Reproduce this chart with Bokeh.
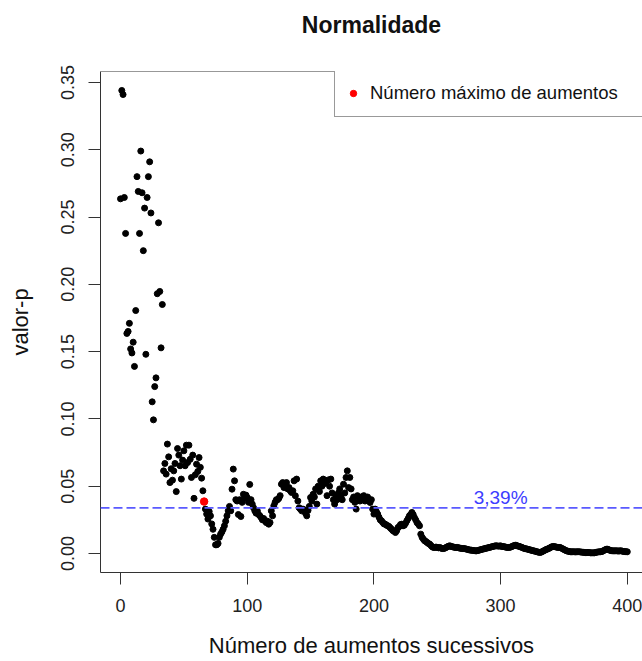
from bokeh.plotting import figure
from bokeh.models import (Range1d, FixedTicker, NumeralTickFormatter, Span, Label,
                          Legend, LegendItem, Title)
from bokeh.embed import file_html
from bokeh.resources import INLINE

# ---------------- data ----------------
title_text = "Normalidade"
x_label = "Número de aumentos sucessivos"
y_label = "valor-p"
legend_label = "Número máximo de aumentos"

x_ticks = [0, 100, 200, 300, 400]
y_ticks = [0.00, 0.05, 0.10, 0.15, 0.20, 0.25, 0.30, 0.35]

# p-values for 0, 1, 2, ... successive increases
pval_a = [0.2635, 0.3440, 0.3410, 0.2645, 0.2378, 0.1635, 0.1650, 0.1710, 0.1520, 0.1490,
          0.1570, 0.1390, 0.1805, 0.2800, 0.2690, 0.2378, 0.2990, 0.2680, 0.2250, 0.2566,
          0.1480, 0.2645, 0.2800, 0.2910, 0.2530, 0.1127, 0.0993, 0.1240, 0.1305, 0.1930,
          0.2457, 0.1947, 0.1528, 0.1850]
pval_b = [0.0614, 0.0669, 0.0590, 0.0813, 0.0718, 0.0527, 0.0630, 0.0545, 0.0614, 0.0669,
          0.0460, 0.0780, 0.0731, 0.0652, 0.0553, 0.0694, 0.0763, 0.0652, 0.0805, 0.0676,
          0.0805, 0.0700, 0.0565, 0.0731, 0.0410, 0.0585, 0.0664, 0.0610, 0.0713, 0.0640,
          0.0560, 0.0466, 0.0386]
pval_c = [0.0330, 0.0293, 0.0256, 0.0312, 0.0280, 0.0220, 0.0180, 0.0120, 0.0065, 0.0065,
          0.0075, 0.0120, 0.0144, 0.0160, 0.0180, 0.0206, 0.0240, 0.0280, 0.0317, 0.0350,
          0.0317, 0.0478, 0.0627, 0.0540, 0.0400, 0.0390, 0.0290, 0.0400, 0.0275, 0.0380,
          0.0440, 0.0410, 0.0434, 0.0416, 0.0380, 0.0513, 0.0400, 0.0367, 0.0340, 0.0317,
          0.0300, 0.0317, 0.0290, 0.0280, 0.0267, 0.0250, 0.0260, 0.0243, 0.0230, 0.0240,
          0.0218, 0.0230, 0.0317, 0.0280, 0.0354, 0.0380, 0.0400, 0.0400, 0.0410, 0.0430,
          0.0515, 0.0527, 0.0490, 0.0508, 0.0527, 0.0480, 0.0490]
pval_d = [0.0466, 0.0453, 0.0466, 0.0540, 0.0429, 0.0553, 0.0390, 0.0340, 0.0330, 0.0317,
          0.0330, 0.0317, 0.0300, 0.0280, 0.0320, 0.0350, 0.0416, 0.0390, 0.0440, 0.0420,
          0.0480, 0.0367, 0.0500, 0.0460, 0.0540, 0.0500, 0.0553, 0.0520, 0.0527, 0.0430,
          0.0547, 0.0500, 0.0553, 0.0450, 0.0400, 0.0367, 0.0430, 0.0400, 0.0450, 0.0480,
          0.0430, 0.0400, 0.0515, 0.0450, 0.0565, 0.0614, 0.0490, 0.0565, 0.0480, 0.0400,
          0.0420, 0.0380, 0.0330, 0.0430, 0.0416, 0.0390, 0.0420, 0.0400, 0.0430, 0.0390,
          0.0416, 0.0420, 0.0400, 0.0379, 0.0400, 0.0330, 0.0293]
pval_e = [0.0330, 0.0310, 0.0293, 0.0270, 0.0250, 0.0243, 0.0230, 0.0220, 0.0218, 0.0210,
          0.0206, 0.0200, 0.0190, 0.0180, 0.0170, 0.0165, 0.0156, 0.0170, 0.0193, 0.0200,
          0.0215, 0.0218, 0.0206, 0.0210, 0.0225, 0.0243, 0.0260, 0.0280, 0.0290, 0.0305,
          0.0290, 0.0267, 0.0250, 0.0230, 0.0220, 0.0206, 0.0144, 0.0120, 0.0107, 0.0095,
          0.0090, 0.0082, 0.0075, 0.0070, 0.0060, 0.0050, 0.0045, 0.0045, 0.0048, 0.0045,
          0.0042, 0.0045, 0.0040, 0.0037, 0.0037, 0.0040, 0.0045, 0.0050, 0.0055, 0.0057,
          0.0052, 0.0050, 0.0048, 0.0045, 0.0045, 0.0045, 0.0042, 0.0040, 0.0038, 0.0037,
          0.0037, 0.0035, 0.0033, 0.0030, 0.0028, 0.0025, 0.0025, 0.0023, 0.0022, 0.0020,
          0.0020, 0.0022, 0.0025, 0.0028, 0.0030, 0.0033, 0.0035, 0.0038, 0.0040, 0.0042,
          0.0045, 0.0047, 0.0050, 0.0052, 0.0055, 0.0057, 0.0057, 0.0055, 0.0055, 0.0057]
pval_f = [0.0052, 0.0052, 0.0050, 0.0048, 0.0045, 0.0045, 0.0045, 0.0048, 0.0052, 0.0057,
          0.0060, 0.0062, 0.0057, 0.0055, 0.0052, 0.0048, 0.0045, 0.0040, 0.0037, 0.0035,
          0.0033, 0.0030, 0.0028, 0.0025, 0.0022, 0.0020, 0.0018, 0.0015, 0.0012, 0.0010,
          0.0008, 0.0010, 0.0015, 0.0020, 0.0025, 0.0030, 0.0033, 0.0038, 0.0042, 0.0048,
          0.0052, 0.0052, 0.0050, 0.0048, 0.0045, 0.0045, 0.0045, 0.0040, 0.0035, 0.0030,
          0.0025, 0.0020, 0.0018, 0.0015, 0.0013, 0.0013, 0.0013, 0.0013, 0.0012, 0.0013,
          0.0013, 0.0013, 0.0012, 0.0010, 0.0010, 0.0008, 0.0007, 0.0007, 0.0008, 0.0007,
          0.0005, 0.0005, 0.0005, 0.0005, 0.0008, 0.0010, 0.0012, 0.0013, 0.0013, 0.0015,
          0.0020, 0.0025, 0.0030, 0.0033, 0.0030, 0.0025, 0.0022, 0.0020, 0.0020, 0.0020,
          0.0020, 0.0020, 0.0018, 0.0020, 0.0020, 0.0018, 0.0015, 0.0015, 0.0013, 0.0013]

max_increases_x = 66
max_increases_p = 0.0386
threshold = 0.0339
threshold_text = "3,39%"
threshold_text_x = 300

pvals = pval_a + pval_b + pval_c + pval_d + pval_e + pval_f
increases = list(range(len(pvals)))

# ---------------- figure ----------------
FONT = "Liberation Sans"
AXC = "#333333"

p = figure(width=642, height=661, output_backend="svg", toolbar_location=None,
           x_range=Range1d(-15.8, 412.0), y_range=Range1d(-0.0141, 0.3581),
           min_border_left=100, min_border_right=0, min_border_top=71,
           min_border_bottom=89, background_fill_color="white",
           border_fill_color="white", title_location=None)
p.outline_line_color = None
p.xgrid.visible = False
p.ygrid.visible = False

# spacer next to the frame, then the real title above it
p.add_layout(Title(text=" ", text_font=FONT, text_font_size="23px", standoff=6,
                   align="center"), "above")
p.add_layout(Title(text=title_text, text_font=FONT, text_font_size="23px",
                   text_font_style="bold", text_color="#111111", standoff=0,
                   align="center"), "above")

for ax in (p.xaxis[0], p.yaxis[0]):
    ax.axis_line_color = AXC
    ax.axis_line_width = 1
    ax.major_tick_line_color = AXC
    ax.major_tick_out = 12
    ax.major_tick_in = 0
    ax.minor_tick_line_color = None
    ax.major_label_text_font = FONT
    ax.major_label_text_font_size = "18px"
    ax.major_label_text_color = "#222222"
    ax.axis_label_text_font = FONT
    ax.axis_label_text_font_size = "22px"
    ax.axis_label_text_font_style = "normal"
    ax.axis_label_text_color = "#111111"

p.xaxis.ticker = FixedTicker(ticks=x_ticks)
p.yaxis.ticker = FixedTicker(ticks=y_ticks)
p.yaxis.formatter = NumeralTickFormatter(format="0.00")
p.yaxis.major_label_orientation = "vertical"
p.xaxis.axis_label = x_label
p.yaxis.axis_label = y_label
p.yaxis.major_label_standoff = 14
p.yaxis.axis_label_standoff = 26
p.xaxis.major_label_standoff = 14
p.xaxis.axis_label_standoff = 18

# top border of the box
p.add_layout(Span(location=p.y_range.end, dimension="width",
                  line_color=AXC, line_width=1))

# points
p.scatter(x=increases, y=pvals, size=6, color="black")
r_red = p.scatter(x=[max_increases_x], y=[max_increases_p], size=7.5, color="red")

# threshold line and label
p.add_layout(Span(location=threshold, dimension="width", line_color="#5a5aff",
                  line_width=1.6, line_dash="9 4"))
p.add_layout(Label(x=threshold_text_x, y=threshold, text=threshold_text,
                   text_font=FONT, text_font_size="19px", text_color="#3c3cff",
                   text_align="center", text_baseline="bottom"))

legend = Legend(items=[LegendItem(label=legend_label, renderers=[r_red])],
                location=(234, 455), padding=10, glyph_width=16, glyph_height=26,
                label_height=26, label_width=300, label_standoff=9, spacing=0,
                label_text_font=FONT, label_text_font_size="18.5px",
                label_text_color="#111111", border_line_color=AXC,
                border_line_width=1, background_fill_color="white",
                background_fill_alpha=1.0)
p.add_layout(legend)

open("out.html", "w").write(file_html(p, INLINE))
